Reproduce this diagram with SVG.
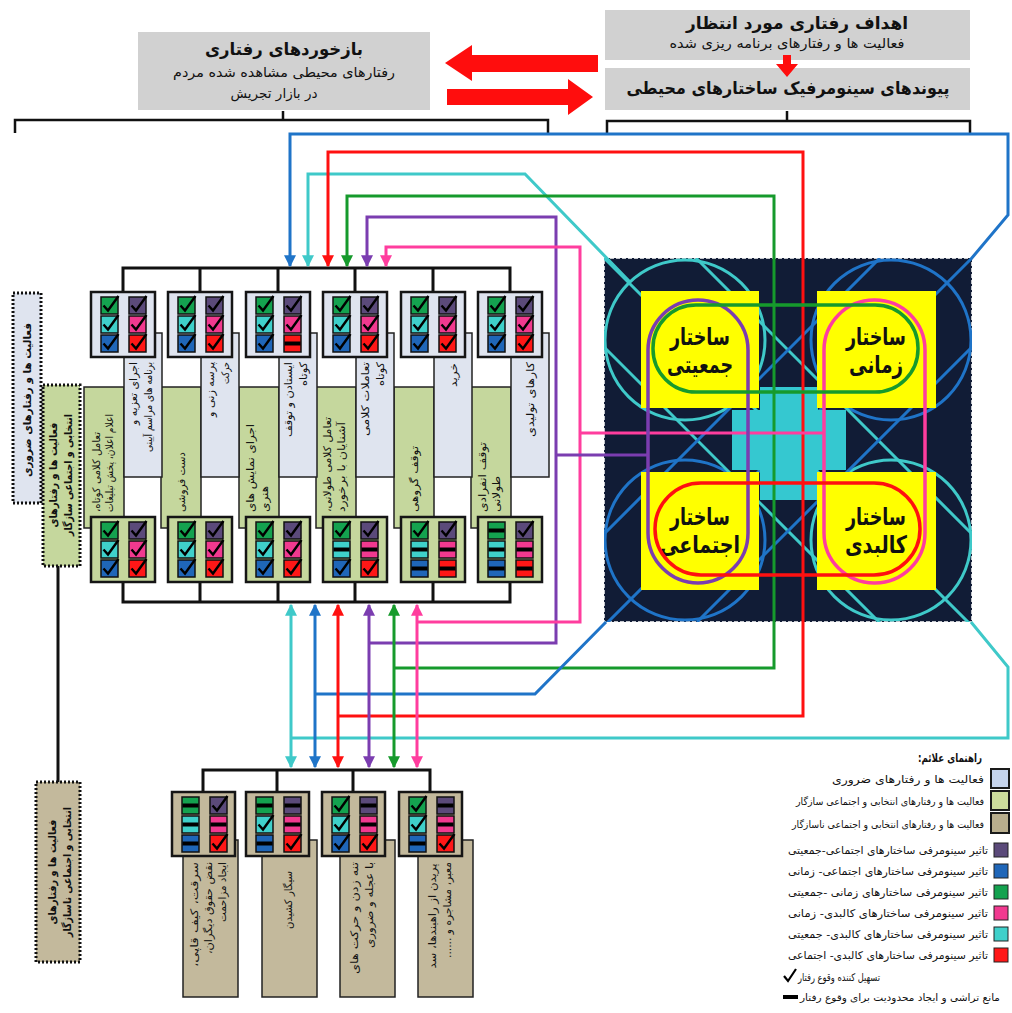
<svg xmlns="http://www.w3.org/2000/svg" width="1012" height="1013" viewBox="0 0 1012 1013">
<style>
text{font-family:"DejaVu Sans","Noto Sans",sans-serif;direction:rtl;text-anchor:middle;fill:#111}
.hb{font-size:17px;font-weight:bold}
.hs{font-size:13.5px}
.pt{font-size:10.5px}
.lbl{font-size:11px;font-weight:bold}
.st{font-size:24px;font-weight:bold}
.lg{font-size:10.5px}
.lgs{font-size:10px}
.lgt{font-size:11.5px;font-weight:bold}
.gb{fill:#d1d1d1}
.ra{fill:#ff0d0d}
.br{fill:none;stroke:#111;stroke-width:2.5}
.bar{fill:none;stroke:#111;stroke-width:3}
.bT{fill:#dfe4ef;stroke:#151515;stroke-width:2.5}
.bG{fill:#c5d79d;stroke:#151515;stroke-width:2.5}
.bN{fill:#c3b99c;stroke:#151515;stroke-width:2.5}
.pL{fill:#dfe4ef;stroke:#222;stroke-width:1.5}
.pG{fill:#c5d79d;stroke:#222;stroke-width:1.5}
.pN{fill:#c3b99c;stroke:#222;stroke-width:1.5}
.q{stroke:#111;stroke-width:1.5}
.ln{fill:none;stroke-width:3}
.cB{stroke:#1f74c8}.cC{stroke:#3fc9c9}.cR{stroke:#ff1010}.cG{stroke:#169a2c}.cP{stroke:#7b3db0}.cK{stroke:#ff3d9e}
.dot{stroke:#111;stroke-width:3;stroke-dasharray:2 2}
.pill{fill:none;stroke-width:3.5}
</style>
<defs>
<path id="ck" d="M2.5,8.5 L7,13.5 L17.5,-1" fill="none" stroke="#000" stroke-width="2.4"/>
<path id="ds" d="M0.5,8.5 H16.5" stroke="#000" stroke-width="4"/>
<g id="gC"><rect class="q" width="17" height="17" fill="#14a24f"/><use href="#ck"/></g>
<g id="gD"><rect class="q" width="17" height="17" fill="#14a24f"/><use href="#ds"/></g>
<g id="pC"><rect class="q" width="17" height="17" fill="#5b4a7a"/><use href="#ck"/></g>
<g id="pD"><rect class="q" width="17" height="17" fill="#5b4a7a"/><use href="#ds"/></g>
<g id="cC"><rect class="q" width="17" height="17" fill="#3fd0ca"/><use href="#ck"/></g>
<g id="cD"><rect class="q" width="17" height="17" fill="#3fd0ca"/><use href="#ds"/></g>
<g id="kC"><rect class="q" width="17" height="17" fill="#f1398f"/><use href="#ck"/></g>
<g id="kD"><rect class="q" width="17" height="17" fill="#f1398f"/><use href="#ds"/></g>
<g id="bC"><rect class="q" width="17" height="17" fill="#1f66b8"/><use href="#ck"/></g>
<g id="bD"><rect class="q" width="17" height="17" fill="#1f66b8"/><use href="#ds"/></g>
<g id="rC"><rect class="q" width="17" height="17" fill="#ff1717"/><use href="#ck"/></g>
<g id="rD"><rect class="q" width="17" height="17" fill="#ff1717"/><use href="#ds"/></g>
<marker id="mB" viewBox="0 0 10 10" refX="9" refY="5" markerWidth="12" markerHeight="12" markerUnits="userSpaceOnUse" orient="auto-start-reverse"><path d="M0,0 L10,5 L0,10 z" fill="#1f74c8"/></marker>
<marker id="mC" viewBox="0 0 10 10" refX="9" refY="5" markerWidth="12" markerHeight="12" markerUnits="userSpaceOnUse" orient="auto-start-reverse"><path d="M0,0 L10,5 L0,10 z" fill="#3fc9c9"/></marker>
<marker id="mR" viewBox="0 0 10 10" refX="9" refY="5" markerWidth="12" markerHeight="12" markerUnits="userSpaceOnUse" orient="auto-start-reverse"><path d="M0,0 L10,5 L0,10 z" fill="#ff1010"/></marker>
<marker id="mG" viewBox="0 0 10 10" refX="9" refY="5" markerWidth="12" markerHeight="12" markerUnits="userSpaceOnUse" orient="auto-start-reverse"><path d="M0,0 L10,5 L0,10 z" fill="#169a2c"/></marker>
<marker id="mP" viewBox="0 0 10 10" refX="9" refY="5" markerWidth="12" markerHeight="12" markerUnits="userSpaceOnUse" orient="auto-start-reverse"><path d="M0,0 L10,5 L0,10 z" fill="#7b3db0"/></marker>
<marker id="mK" viewBox="0 0 10 10" refX="9" refY="5" markerWidth="12" markerHeight="12" markerUnits="userSpaceOnUse" orient="auto-start-reverse"><path d="M0,0 L10,5 L0,10 z" fill="#ff3d9e"/></marker>
<clipPath id="sqc"><rect x="604" y="258" width="368" height="364"/></clipPath>
</defs>
<rect width="1012" height="1013" fill="#fff"/>

<!-- header nodes -->
<g id="n-feedback">
<rect class="gb" x="138" y="32" width="292" height="78"/>
<text class="hb" x="284" y="55" textLength="158" lengthAdjust="spacingAndGlyphs">بازخوردهای رفتاری</text>
<text class="hs" x="284" y="77" textLength="222" lengthAdjust="spacingAndGlyphs">رفتارهای محیطی مشاهده شده مردم</text>
<text class="hs" x="274" y="98" textLength="87" lengthAdjust="spacingAndGlyphs">در بازار تجریش</text>
</g>
<g id="n-goals">
<rect class="gb" x="605" y="10" width="365" height="50"/>
<text class="hb" x="797" y="29" textLength="222" lengthAdjust="spacingAndGlyphs">اهداف رفتاری مورد انتظار</text>
<text class="hs" x="787" y="48" textLength="235" lengthAdjust="spacingAndGlyphs">فعالیت ها و رفتارهای برنامه ریزی شده</text>
</g>
<g id="n-links">
<rect class="gb" x="605" y="68" width="365" height="42"/>
<text class="hb" x="788" y="94" textLength="323" lengthAdjust="spacingAndGlyphs">پیوندهای سینومرفیک ساختارهای محیطی</text>
</g>
<g id="header-arrows">
<polygon class="ra" points="445,63 472,45 472,55 598,55 598,72 472,72 472,81"/>
<polygon class="ra" points="447,89 568,89 568,79 593,97 568,115 568,105 447,105"/>
<polygon class="ra" points="783,55 791,55 791,64 798,64 787,77 776,64 783,64"/>
<path class="br" d="M15,133 V120 H548 V133 M283,120 V111"/>
<path class="br" d="M607,133 V121 H970 V133 M787,121 V111"/>
</g>

<!-- left category labels -->
<g id="n-label-necessary">
<rect x="13" y="293" width="28" height="210" fill="#dfe4ef" class="dot"/>
<text class="lbl" transform="translate(31,400) rotate(-90)" textLength="154" lengthAdjust="spacingAndGlyphs">فعالیت ها و رفتارهای ضروری</text>
</g>
<g id="n-label-compatible">
<rect x="43" y="385" width="37" height="181" fill="#c5d79d" class="dot"/>
<text class="lbl" transform="translate(57,475) rotate(-90)" textLength="105" lengthAdjust="spacingAndGlyphs">فعالیت ها و رفتارهای</text>
<text class="lbl" transform="translate(72,475) rotate(-90)" textLength="122" lengthAdjust="spacingAndGlyphs">انتخابی و اجتماعی سازگار</text>
</g>
<g id="n-label-incompatible">
<rect x="36" y="782" width="44" height="180" fill="#c3b99c" class="dot"/>
<text class="lbl" transform="translate(56,872) rotate(-90)" textLength="105" lengthAdjust="spacingAndGlyphs">فعالیت ها و رفتارهای</text>
<text class="lbl" transform="translate(71,872) rotate(-90)" textLength="130" lengthAdjust="spacingAndGlyphs">انتخابی و اجتماعی ناسازگار</text>
</g>

<!-- structures square -->
<g id="n-structures">
<rect x="604" y="258" width="368" height="364" fill="#111c36" stroke="#fff" stroke-width="1.5" stroke-dasharray="4 2"/>
<g clip-path="url(#sqc)" fill="none" stroke-width="3">
<circle cx="685" cy="340" r="80" stroke="#3fc9c9"/>
<circle cx="891" cy="340" r="80" stroke="#1f74c8"/>
<circle cx="685" cy="540" r="80" stroke="#1f74c8"/>
<circle cx="891" cy="540" r="80" stroke="#3fc9c9"/>
<path stroke="#3fc9c9" d="M604,258 L972,626 M696,258 L972,534 M604,347 L883,626"/>
<path stroke="#1f74c8" d="M972,258 L604,626 M880,258 L604,534 M972,347 L697,622"/>
</g>
<rect x="760" y="387" width="58" height="113" fill="#35c8d0"/>
<rect x="732" y="410" width="114" height="60" fill="#35c8d0"/>
<g id="n-s-population"><rect x="641" y="291" width="118" height="117" fill="#ffff00"/>
<text class="st" x="700" y="345" textLength="60" lengthAdjust="spacingAndGlyphs">ساختار</text>
<text class="st" x="700" y="373" textLength="66" lengthAdjust="spacingAndGlyphs">جمعیتی</text></g>
<g id="n-s-time"><rect x="817" y="291" width="119" height="117" fill="#ffff00"/>
<text class="st" x="876" y="345" textLength="60" lengthAdjust="spacingAndGlyphs">ساختار</text>
<text class="st" x="876" y="373" textLength="54" lengthAdjust="spacingAndGlyphs">زمانی</text></g>
<g id="n-s-social"><rect x="641" y="472" width="118" height="118" fill="#ffff00"/>
<text class="st" x="700" y="525" textLength="60" lengthAdjust="spacingAndGlyphs">ساختار</text>
<text class="st" x="700" y="553" textLength="80" lengthAdjust="spacingAndGlyphs">اجتماعی</text></g>
<g id="n-s-physical"><rect x="817" y="472" width="119" height="118" fill="#ffff00"/>
<text class="st" x="876" y="525" textLength="60" lengthAdjust="spacingAndGlyphs">ساختار</text>
<text class="st" x="876" y="553" textLength="62" lengthAdjust="spacingAndGlyphs">کالبدی</text></g>
</g>

<!-- middle group panels -->
<g id="n-act-necessary">
<rect class="pG" x="84" y="387" width="40" height="141"/>
<rect class="pG" x="161" y="387" width="40" height="141"/>
<rect class="pG" x="239" y="387" width="40" height="141"/>
<rect class="pG" x="316" y="387" width="40" height="141"/>
<rect class="pG" x="394" y="387" width="40" height="141"/>
<rect class="pG" x="471" y="387" width="40" height="141"/>
<rect class="pL" x="124" y="333" width="38" height="144"/>
<rect class="pL" x="201" y="333" width="38" height="144"/>
<rect class="pL" x="279" y="333" width="38" height="144"/>
<rect class="pL" x="356" y="333" width="38" height="144"/>
<rect class="pL" x="434" y="333" width="38" height="144"/>
<rect class="pL" x="511" y="333" width="38" height="144"/>
</g>
<g id="n-act-texts">
<text class="pt" transform="translate(137,393.5) rotate(-90)" textLength="63" lengthAdjust="spacingAndGlyphs">اجرای تعزیه و</text>
<text class="pt" transform="translate(152,407) rotate(-90)" textLength="90" lengthAdjust="spacingAndGlyphs">برنامه های مراسم آیینی</text>
<text class="pt" transform="translate(214,389.5) rotate(-90)" textLength="55" lengthAdjust="spacingAndGlyphs">پرسه زنی و</text>
<text class="pt" transform="translate(229,373) rotate(-90)" textLength="22" lengthAdjust="spacingAndGlyphs">حرکت</text>
<text class="pt" transform="translate(292,399.5) rotate(-90)" textLength="75" lengthAdjust="spacingAndGlyphs">ایستادن و توقف</text>
<text class="pt" transform="translate(307,374) rotate(-90)" textLength="24" lengthAdjust="spacingAndGlyphs">کوتاه</text>
<text class="pt" transform="translate(369,399) rotate(-90)" textLength="74" lengthAdjust="spacingAndGlyphs">تعاملات کلامی</text>
<text class="pt" transform="translate(384,374) rotate(-90)" textLength="24" lengthAdjust="spacingAndGlyphs">کوتاه</text>
<text class="pt" transform="translate(457,375) rotate(-90)" textLength="24" lengthAdjust="spacingAndGlyphs">خرید</text>
<text class="pt" transform="translate(534,399.5) rotate(-90)" textLength="75" lengthAdjust="spacingAndGlyphs">کارهای تولیدی</text>
<text class="pt" transform="translate(100,472) rotate(-90)" textLength="80" lengthAdjust="spacingAndGlyphs">تعامل کلامی کوتاه،</text>
<text class="pt" transform="translate(113,463) rotate(-90)" textLength="98" lengthAdjust="spacingAndGlyphs">اعلام اعلان، پخش تبلیغات</text>
<text class="pt" transform="translate(185,482) rotate(-90)" textLength="60" lengthAdjust="spacingAndGlyphs">دست فروشی</text>
<text class="pt" transform="translate(254,468) rotate(-90)" textLength="88" lengthAdjust="spacingAndGlyphs">اجرای نمایش های</text>
<text class="pt" transform="translate(268,499) rotate(-90)" textLength="26" lengthAdjust="spacingAndGlyphs">هنری</text>
<text class="pt" transform="translate(331,464.5) rotate(-90)" textLength="95" lengthAdjust="spacingAndGlyphs">تعامل کلامی طولانی،</text>
<text class="pt" transform="translate(345,467) rotate(-90)" textLength="90" lengthAdjust="spacingAndGlyphs">آشنایان با برخورد</text>
<text class="pt" transform="translate(418,479) rotate(-90)" textLength="66" lengthAdjust="spacingAndGlyphs">توقف گروهی</text>
<text class="pt" transform="translate(486,477) rotate(-90)" textLength="70" lengthAdjust="spacingAndGlyphs">توقف انفرادی</text>
<text class="pt" transform="translate(500,494) rotate(-90)" textLength="36" lengthAdjust="spacingAndGlyphs">طولانی</text>
</g>

<!-- middle group bars -->
<g id="bars">
<path class="bar" d="M123,292 V268 H510 V292 M200,268 V292 M278,268 V292 M355,268 V292 M433,268 V292"/>
<path class="bar" d="M123,582 V602 H510 V582 M200,602 V582 M278,602 V582 M355,602 V582 M433,602 V582"/>
<path class="bar" d="M203,792 V770 H430 V792 M277,770 V792 M353,770 V792"/>
<path class="bar" d="M58,566 V782"/>
</g>

<!-- top check boxes -->
<g id="t1" transform="translate(91,292)"><rect class="bT" width="64" height="65"/><use href="#gC" x="10" y="5"/><use href="#pC" x="38" y="5"/><use href="#cC" x="10" y="24"/><use href="#kC" x="38" y="24"/><use href="#bC" x="10" y="43"/><use href="#rC" x="38" y="43"/></g>
<g id="t2" transform="translate(168,292)"><rect class="bT" width="64" height="65"/><use href="#gC" x="10" y="5"/><use href="#pC" x="38" y="5"/><use href="#cC" x="10" y="24"/><use href="#kC" x="38" y="24"/><use href="#bC" x="10" y="43"/><use href="#rC" x="38" y="43"/></g>
<g id="t3" transform="translate(246,292)"><rect class="bT" width="64" height="65"/><use href="#gC" x="10" y="5"/><use href="#pC" x="38" y="5"/><use href="#cC" x="10" y="24"/><use href="#kC" x="38" y="24"/><use href="#bC" x="10" y="43"/><use href="#rD" x="38" y="43"/></g>
<g id="t4" transform="translate(323,292)"><rect class="bT" width="64" height="65"/><use href="#gC" x="10" y="5"/><use href="#pC" x="38" y="5"/><use href="#cC" x="10" y="24"/><use href="#kC" x="38" y="24"/><use href="#bC" x="10" y="43"/><use href="#rC" x="38" y="43"/></g>
<g id="t5" transform="translate(401,292)"><rect class="bT" width="64" height="65"/><use href="#gC" x="10" y="5"/><use href="#pC" x="38" y="5"/><use href="#cC" x="10" y="24"/><use href="#kC" x="38" y="24"/><use href="#bC" x="10" y="43"/><use href="#rC" x="38" y="43"/></g>
<g id="t6" transform="translate(478,292)"><rect class="bT" width="64" height="65"/><use href="#gC" x="10" y="5"/><use href="#pC" x="38" y="5"/><use href="#cC" x="10" y="24"/><use href="#kC" x="38" y="24"/><use href="#bC" x="10" y="43"/><use href="#rC" x="38" y="43"/></g>
<!-- bottom check boxes of middle group -->
<g id="m1" transform="translate(91,517)"><rect class="bG" width="64" height="65"/><use href="#gC" x="10" y="5"/><use href="#pC" x="38" y="5"/><use href="#cC" x="10" y="24"/><use href="#kC" x="38" y="24"/><use href="#bC" x="10" y="43"/><use href="#rC" x="38" y="43"/></g>
<g id="m2" transform="translate(168,517)"><rect class="bG" width="64" height="65"/><use href="#gC" x="10" y="5"/><use href="#pC" x="38" y="5"/><use href="#cC" x="10" y="24"/><use href="#kC" x="38" y="24"/><use href="#bC" x="10" y="43"/><use href="#rC" x="38" y="43"/></g>
<g id="m3" transform="translate(246,517)"><rect class="bG" width="64" height="65"/><use href="#gC" x="10" y="5"/><use href="#pC" x="38" y="5"/><use href="#cC" x="10" y="24"/><use href="#kC" x="38" y="24"/><use href="#bC" x="10" y="43"/><use href="#rC" x="38" y="43"/></g>
<g id="m4" transform="translate(323,517)"><rect class="bG" width="64" height="65"/><use href="#gC" x="10" y="5"/><use href="#pC" x="38" y="5"/><use href="#cD" x="10" y="24"/><use href="#kD" x="38" y="24"/><use href="#bC" x="10" y="43"/><use href="#rC" x="38" y="43"/></g>
<g id="m5" transform="translate(401,517)"><rect class="bG" width="64" height="65"/><use href="#gC" x="10" y="5"/><use href="#pC" x="38" y="5"/><use href="#cD" x="10" y="24"/><use href="#kD" x="38" y="24"/><use href="#bD" x="10" y="43"/><use href="#rD" x="38" y="43"/></g>
<g id="m6" transform="translate(478,517)"><rect class="bG" width="64" height="65"/><use href="#gD" x="10" y="5"/><use href="#pC" x="38" y="5"/><use href="#cD" x="10" y="24"/><use href="#kD" x="38" y="24"/><use href="#bD" x="10" y="43"/><use href="#rD" x="38" y="43"/></g>

<!-- lower group panels -->
<g id="n-act-incompatible">
<rect class="pN" x="183" y="840" width="55" height="157"/>
<rect class="pN" x="262" y="840" width="55" height="157"/>
<rect class="pN" x="340" y="840" width="55" height="157"/>
<rect class="pN" x="418" y="840" width="55" height="157"/>
<text class="pt" transform="translate(198,914.5) rotate(-90)" textLength="105" lengthAdjust="spacingAndGlyphs">سرقت، کیف قاپی،</text>
<text class="pt" transform="translate(212,908) rotate(-90)" textLength="92" lengthAdjust="spacingAndGlyphs">نقض حقوق دیگران،</text>
<text class="pt" transform="translate(226,892) rotate(-90)" textLength="60" lengthAdjust="spacingAndGlyphs">ایجاد مزاحمت</text>
<text class="pt" transform="translate(292,900) rotate(-90)" textLength="58" lengthAdjust="spacingAndGlyphs">سیگار کشیدن</text>
<text class="pt" transform="translate(358,918) rotate(-90)" textLength="112" lengthAdjust="spacingAndGlyphs">تنه زدن و حرکت های</text>
<text class="pt" transform="translate(373,905) rotate(-90)" textLength="86" lengthAdjust="spacingAndGlyphs">با عجله و ضروری</text>
<text class="pt" transform="translate(436,916) rotate(-90)" textLength="105" lengthAdjust="spacingAndGlyphs">پریدن از راهبندها، سد</text>
<text class="pt" transform="translate(451,910) rotate(-90)" textLength="96" lengthAdjust="spacingAndGlyphs">معبر، مشاجره و ......</text>
</g>
<g id="l1" transform="translate(172,792)"><rect class="bN" width="63" height="64"/><use href="#gD" x="10" y="5"/><use href="#pC" x="38" y="5"/><use href="#cD" x="10" y="24"/><use href="#kD" x="38" y="24"/><use href="#bD" x="10" y="43"/><use href="#rC" x="38" y="43"/></g>
<g id="l2" transform="translate(246,792)"><rect class="bN" width="63" height="64"/><use href="#gD" x="10" y="5"/><use href="#pD" x="38" y="5"/><use href="#cC" x="10" y="24"/><use href="#kD" x="38" y="24"/><use href="#bD" x="10" y="43"/><use href="#rC" x="38" y="43"/></g>
<g id="l3" transform="translate(322,792)"><rect class="bN" width="63" height="64"/><use href="#gC" x="10" y="5"/><use href="#pD" x="38" y="5"/><use href="#cC" x="10" y="24"/><use href="#kD" x="38" y="24"/><use href="#bC" x="10" y="43"/><use href="#rC" x="38" y="43"/></g>
<g id="l4" transform="translate(399,792)"><rect class="bN" width="63" height="64"/><use href="#gC" x="10" y="5"/><use href="#pD" x="38" y="5"/><use href="#cC" x="10" y="24"/><use href="#kD" x="38" y="24"/><use href="#bD" x="10" y="43"/><use href="#rC" x="38" y="43"/></g>

<!-- connectors -->
<g id="connectors">
<path class="ln cB" d="M290,266 V134 H1008 V215 L971,259" marker-start="url(#mB)"/>
<path class="ln cC" d="M308,266 V174 H525 L630,282" marker-start="url(#mC)"/>
<path class="ln cR" d="M328,266 V152 H803 V716 H338" marker-start="url(#mR)"/>
<path class="ln cG" d="M347,266 V196 H774 V668 H394" marker-start="url(#mG)"/>
<path class="ln cP" d="M367,266 V217 H556 V643 H369" marker-start="url(#mP)"/>
<path class="ln cK" d="M386,266 V247 H580 V622 H417" marker-start="url(#mK)"/>
<path class="ln cP" d="M556,455 H648"/>
<path class="ln cK" d="M580,433 H824"/>
<path class="ln cB" d="M606,622 L535,694 H315"/>
<path class="ln cC" d="M971,622 L1008,667 V738 H291"/>
<path class="ln cC" d="M291,605 V767" marker-start="url(#mC)" marker-end="url(#mC)"/>
<path class="ln cB" d="M315,605 V767" marker-start="url(#mB)" marker-end="url(#mB)"/>
<path class="ln cR" d="M338,605 V767" marker-start="url(#mR)" marker-end="url(#mR)"/>
<path class="ln cP" d="M369,605 V767" marker-start="url(#mP)" marker-end="url(#mP)"/>
<path class="ln cG" d="M394,605 V767" marker-start="url(#mG)" marker-end="url(#mG)"/>
<path class="ln cK" d="M417,605 V767" marker-start="url(#mK)" marker-end="url(#mK)"/>
</g>

<!-- structure linkage rings -->
<g id="n-rings">
<rect class="pill cP" x="648" y="300" width="100" height="283" rx="50"/>
<rect class="pill cK" x="824" y="300" width="101" height="283" rx="50"/>
<rect class="pill cG" x="653" y="305" width="265" height="87" rx="43" stroke-width="4"/>
<rect class="pill cR" x="655" y="483" width="265" height="92" rx="46" stroke-width="4"/>
</g>

<!-- legend -->
<g id="legend">
<text class="lgt" x="950" y="762" textLength="64" lengthAdjust="spacingAndGlyphs">راهنمای علائم:</text>
<rect x="991" y="769" width="18" height="19" fill="#c6d4ec" stroke="#1a1a1a" stroke-width="2"/>
<text class="lg" x="908" y="783" textLength="152" lengthAdjust="spacingAndGlyphs">فعالیت ها و رفتارهای ضروری</text>
<rect x="991" y="791" width="18" height="19" fill="#cddd9c" stroke="#1a1a1a" stroke-width="2"/>
<text class="lgs" x="890" y="805" textLength="188" lengthAdjust="spacingAndGlyphs">فعالیت ها و رفتارهای انتخابی و اجتماعی سازگار</text>
<rect x="991" y="813" width="18" height="20" fill="#b9ae8d" stroke="#1a1a1a" stroke-width="2"/>
<text class="lgs" x="888" y="828" textLength="192" lengthAdjust="spacingAndGlyphs">فعالیت ها و رفتارهای انتخابی و اجتماعی ناسازگار</text>
<rect x="994" y="843" width="14" height="14" fill="#5b4a7a" stroke="#222"/>
<text class="lg" x="888" y="854" textLength="200" lengthAdjust="spacingAndGlyphs">تاثیر سینومرفی ساختارهای اجتماعی-جمعیتی</text>
<rect x="994" y="864" width="14" height="14" fill="#1f66b8" stroke="#222"/>
<text class="lg" x="888" y="875" textLength="200" lengthAdjust="spacingAndGlyphs">تاثیر سینومرفی ساختارهای اجتماعی- زمانی</text>
<rect x="994" y="885" width="14" height="14" fill="#14a24f" stroke="#222"/>
<text class="lg" x="888" y="896" textLength="200" lengthAdjust="spacingAndGlyphs">تاثیر سینومرفی ساختارهای زمانی -جمعیتی</text>
<rect x="994" y="906" width="14" height="14" fill="#f1398f" stroke="#222"/>
<text class="lg" x="888" y="917" textLength="200" lengthAdjust="spacingAndGlyphs">تاثیر سینومرفی ساختارهای کالبدی- زمانی</text>
<rect x="994" y="927" width="14" height="14" fill="#3fd0ca" stroke="#222"/>
<text class="lg" x="888" y="938" textLength="200" lengthAdjust="spacingAndGlyphs">تاثیر سینومرفی ساختارهای کالبدی- جمعیتی</text>
<rect x="994" y="948" width="14" height="14" fill="#ff1717" stroke="#222"/>
<text class="lg" x="888" y="959" textLength="200" lengthAdjust="spacingAndGlyphs">تاثیر سینومرفی ساختارهای کالبدی- اجتماعی</text>
<path d="M784,976 L788,981 L796,969" fill="none" stroke="#000" stroke-width="2.2"/>
<text class="lg" x="839" y="981" textLength="82" lengthAdjust="spacingAndGlyphs">تسهیل کننده وقوع رفتار</text>
<rect x="783" y="995" width="15" height="4" fill="#000"/>
<text class="lgs" x="900" y="1001" textLength="200" lengthAdjust="spacingAndGlyphs">مانع تراشی و ایجاد محدودیت برای وقوع رفتار</text>
</g>
</svg>
